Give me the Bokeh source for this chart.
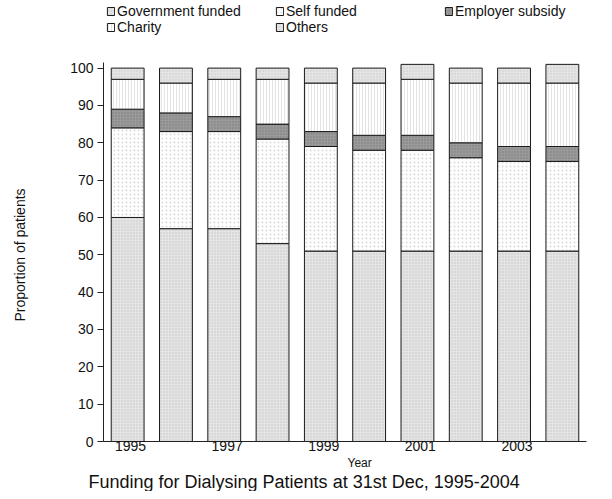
from bokeh.plotting import figure
from bokeh.models import ColumnDataSource, Legend, LegendItem, FixedTicker, Title
from bokeh.transform import stack
from bokeh.embed import file_html
from bokeh.resources import INLINE

years = ["1995", "1996", "1997", "1998", "1999", "2000", "2001", "2002", "2003", "2004"]
tick_years = ["1995", "1997", "1999", "2001", "2003"]
government = [60, 57, 57, 53, 51, 51, 51, 51, 51, 51]
self_funded = [24, 26, 26, 28, 28, 27, 27, 25, 24, 24]
employer = [5, 5, 4, 4, 4, 4, 4, 4, 4, 4]
charity = [8, 8, 10, 12, 13, 14, 15, 16, 17, 17]
others = [3, 4, 3, 3, 4, 4, 4, 4, 4, 5]

series = ["Government funded", "Self funded", "Employer subsidy", "Charity", "Others"]
keys = ["gov", "self", "emp", "cha", "oth"]

xpos = [i + 0.5 for i in range(len(years))]
src = ColumnDataSource(dict(x=xpos, year=years, gov=government, self=self_funded,
                            emp=employer, cha=charity, oth=others))

FONT = "Liberation Sans"
TXT = "#111111"

FRAME_H = 441
p = figure(frame_width=483, frame_height=FRAME_H, x_range=(0, 10),
           y_range=(0, FRAME_H / 3.734),
           output_backend="svg", toolbar_location=None,
           min_border_left=103, min_border_right=10, min_border_top=0,
           min_border_bottom=0)
p.outline_line_color = None
p.xgrid.grid_line_color = None
p.ygrid.grid_line_color = None

styles = [
    dict(fill_color="#e4e4e4", hatch_pattern="dot", hatch_color="#c6c6c6", hatch_scale=3, hatch_weight=1),
    dict(fill_color="#ffffff", hatch_pattern="dot", hatch_color="#dadada", hatch_scale=4, hatch_weight=1),
    dict(fill_color="#9a9a9a", hatch_pattern="dot", hatch_color="#7c7c7c", hatch_scale=3, hatch_weight=1),
    dict(fill_color="#ffffff", hatch_pattern="vertical_line", hatch_color="#e4e4e4", hatch_scale=3, hatch_weight=1),
    dict(fill_color="#e4e4e4", hatch_pattern="dot", hatch_color="#cacaca", hatch_scale=3, hatch_weight=1),
]

renderers = []
for i, k in enumerate(keys):
    bottom = stack(*keys[:i]) if i > 0 else 0
    top = stack(*keys[:i + 1])
    r = p.vbar(x="x", width=0.68, bottom=bottom, top=top, source=src,
               line_color="#1a1a1a", line_width=1, **styles[i])
    renderers.append(r)

items = [LegendItem(label=s, renderers=[r]) for s, r in zip(series, renderers)]
legend = Legend(items=items, location=(3, FRAME_H - 35), orientation="horizontal", ncols=3,
                padding=0, margin=0, spacing=0, border_line_color=None,
                background_fill_alpha=0, glyph_width=9, glyph_height=10,
                label_standoff=2, label_width=158, label_height=13,
                label_text_font=FONT, label_text_font_size="14px",
                label_text_color=TXT)
p.add_layout(legend, "center")

# x axis
tick_pos = [0.56, 2.56, 4.56, 6.56, 8.56]
p.xaxis.ticker = FixedTicker(ticks=tick_pos)
p.xaxis.major_label_overrides = {t: y for t, y in zip(tick_pos, tick_years)}
p.xaxis.major_tick_out = 0
p.xaxis.major_tick_in = 0
p.xaxis.major_tick_line_color = None
p.xaxis.minor_tick_line_color = None
p.xaxis.major_label_standoff = -1
p.xaxis.major_label_text_font = FONT
p.xaxis.major_label_text_font_size = "14px"
p.xaxis.major_label_text_color = TXT
p.xaxis.axis_line_color = "#222222"

# y axis
p.yaxis.ticker = FixedTicker(ticks=list(range(0, 101, 10)))
p.yaxis.bounds = (0, 101.5)
p.yaxis.major_tick_out = 6
p.yaxis.major_tick_in = 0
p.yaxis.minor_tick_line_color = None
p.yaxis.major_label_standoff = 4
p.yaxis.major_label_text_font = FONT
p.yaxis.major_label_text_font_size = "14px"
p.yaxis.major_label_text_color = TXT
p.yaxis.axis_line_color = "#222222"
p.yaxis.major_tick_line_color = "#222222"

# y axis title: a spacer keeps it at the left edge, offset sets its height
spacer = Title(text=" ", standoff=37, text_font=FONT, text_font_size="1px")
p.add_layout(spacer, "left")
ylab = Title(text="Proportion of patients", align="left", offset=120, standoff=0,
             text_font=FONT, text_font_size="14px", text_font_style="normal",
             text_color=TXT)
p.add_layout(ylab, "left")

year_title = Title(text="Year", align="left", offset=244, standoff=0,
                   text_font=FONT, text_font_size="12px",
                   text_font_style="normal", text_color=TXT)
p.add_layout(year_title, "below")
main_title = Title(text="Funding for Dialysing Patients at 31st Dec, 1995-2004",
                   align="left", offset=-15, standoff=0,
                   text_font=FONT, text_font_size="18px", text_font_style="normal",
                   text_color=TXT)
p.add_layout(main_title, "below")

open("out.html", "w").write(file_html(p, INLINE))
